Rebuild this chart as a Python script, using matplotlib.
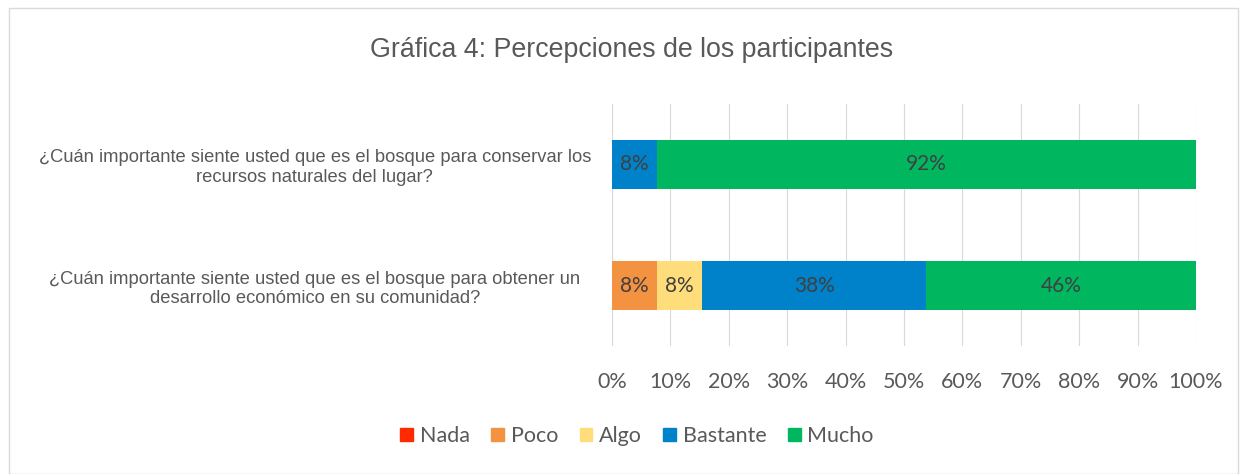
import matplotlib.pyplot as plt
import matplotlib.patches as mpatches
import numpy as np

questions = [
    '¿Cuán importante siente usted que es el bosque para conservar los\nrecursos naturales del lugar?',
    '¿Cuán importante siente usted que es el bosque para obtener un\ndesarrollo económico en su comunidad?',
]
series = ['Nada', 'Poco', 'Algo', 'Bastante', 'Mucho']
colors = ['#FF2A00', '#F39240', '#FFDD7A', '#0082CA', '#00B760']
# percentages per question (13 participants)
nada = [0.0, 0.0]
poco = [0.0, 7.69]
algo = [0.0, 7.69]
bastante = [7.69, 38.46]
mucho = [92.31, 46.15]
values = [nada, poco, algo, bastante, mucho]
ticks = list(range(0, 101, 10))

fig = plt.figure(figsize=(12.48, 4.74), dpi=100, facecolor='white')
ax = fig.add_axes([612 / 1248, 1 - 346 / 474, 584 / 1248, 242 / 474])

tick_font = 'Lato'
text_col = '#595959'

y = np.arange(len(questions))
left = np.zeros(len(questions))
for name, vals, col in zip(series, values, colors):
    vals = np.array(vals)
    ax.barh(y, vals, left=left, height=0.4, color=col, label=name, zorder=3)
    for yi, (l, v) in enumerate(zip(left, vals)):
        if v > 0:
            ax.text(l + v / 2, yi, f'{v:.0f}%', ha='center', va='center',
                    fontsize=15, color='#404040', family=tick_font, zorder=4)
    left += vals

ax.set_xlim(0, 100)
ax.set_ylim(1.5, -0.5)
ax.set_xticks(ticks)
ax.set_xticklabels([f'{t}%' for t in ticks], fontsize=15.5, color=text_col,
                   family=tick_font)
ax.tick_params(axis='x', length=0, pad=19)
ax.set_yticks(y)
ax.set_yticklabels(questions, fontsize=13.2, color=text_col,
                   family='Liberation Sans', ha='center', multialignment='center')
ax.tick_params(axis='y', length=0, pad=214)
ax.grid(axis='x', color='#D9D9D9', linewidth=0.8, zorder=0)
for s in ax.spines.values():
    s.set_visible(False)

fig.text(632 / 1248, 1 - 50 / 474, 'Gráfica 4: Percepciones de los participantes',
         ha='center', va='center', fontsize=19.3, color=text_col,
         family='Liberation Sans')

handles = [mpatches.Patch(color=c, label=n) for n, c in zip(series, colors)]
fig.legend(handles=handles, loc='center', bbox_to_anchor=(637 / 1248, 1 - 436 / 474),
           ncol=5, frameon=False, prop={'family': tick_font, 'size': 15.5},
           labelcolor=text_col, handlelength=0.6, handleheight=0.6,
           handletextpad=0.3, columnspacing=1.0)

fig.patches.append(mpatches.Rectangle((9 / 1248, 0), 1229 / 1248, 1 - 8 / 474,
                                      transform=fig.transFigure, fill=False,
                                      edgecolor='#D9D9D9', linewidth=1))

fig.savefig('out.png', dpi=100, facecolor='white')
